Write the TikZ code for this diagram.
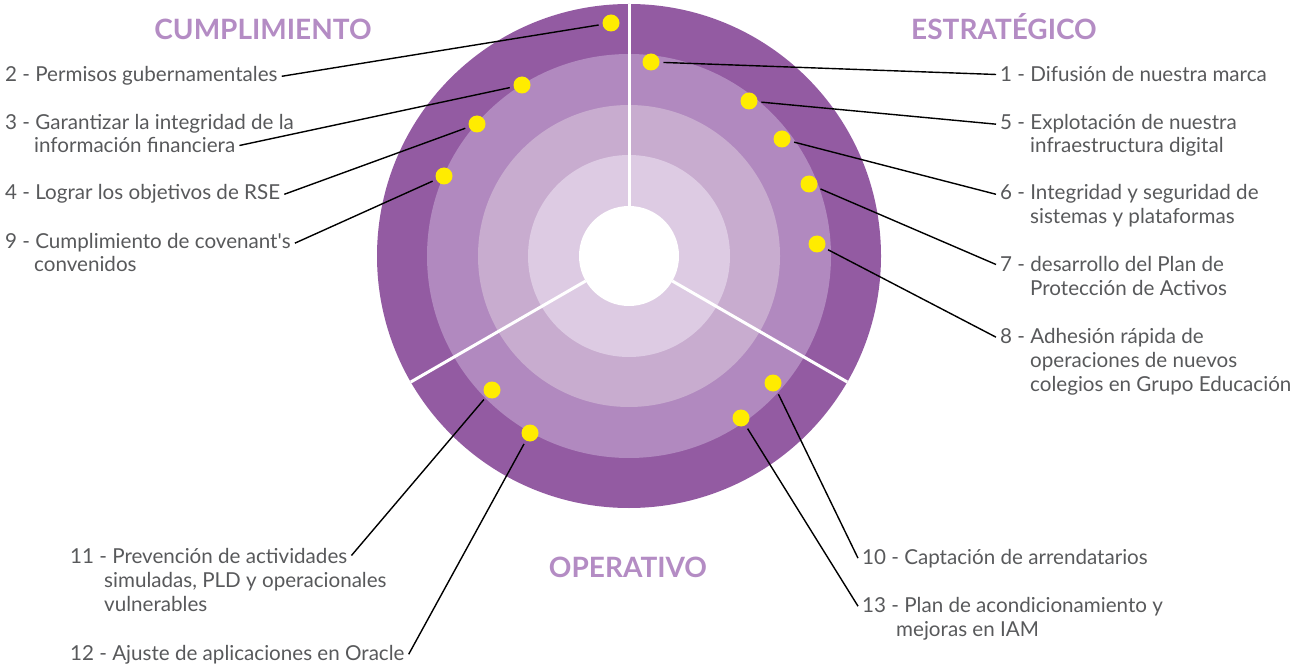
\documentclass[tikz,border=0pt]{standalone}
\usepackage{fontspec}
\setmainfont{Lato}
\definecolor{ringA}{HTML}{935BA2}
\definecolor{ringB}{HTML}{B189BF}
\definecolor{ringC}{HTML}{C8ACCF}
\definecolor{ringD}{HTML}{DDCBE3}
\definecolor{titlepurple}{HTML}{B48CC4}
\definecolor{dotyellow}{HTML}{FFEC00}
\definecolor{txtgray}{HTML}{58595B}

\begin{document}
\begin{tikzpicture}[x=1pt,y=-1pt,
  riskdot/.style={circle,fill=dotyellow,minimum size=17pt,inner sep=0pt,outer sep=4pt},
  lbl/.style={anchor=base west,text=txtgray,font=\fontsize{20.6}{23}\selectfont,inner sep=4pt},
  areatitle/.style={anchor=base,text=titlepurple,font=\fontsize{28}{30}\selectfont\bfseries},
  conn/.style={draw=black,line width=1.4pt}]
\useasboundingbox (0,0) rectangle (1293,668);

% rings
\coordinate (c) at (629,256);
\fill[ringA] (c) circle (252);
\fill[ringB] (c) circle (202);
\fill[ringC] (c) circle (151);
\fill[ringD] (c) circle (101);
\fill[white] (c) circle (50);
\foreach \a in {270,150,30}
  \draw[white,line width=3pt] (c) ++(\a:50) -- ++(\a:202);

% areas
\node[areatitle] (tcump) at (263,40) {CUMPLIMIENTO};
\node[areatitle] (testr) at (1004,40) {ESTRATÉGICO};
\node[areatitle] (toper) at (628,577) {OPERATIVO};

% risks
\node[riskdot] (d1) at (651,62) {};
\node[riskdot] (d2) at (611,23) {};
\node[riskdot] (d3) at (522,85) {};
\node[riskdot] (d4) at (477,124) {};
\node[riskdot] (d5) at (749,101) {};
\node[riskdot] (d6) at (782,139) {};
\node[riskdot] (d7) at (809,184) {};
\node[riskdot] (d8) at (817,244) {};
\node[riskdot] (d9) at (444,176) {};
\node[riskdot] (d10) at (773,383) {};
\node[riskdot] (d11) at (492,390) {};
\node[riskdot] (d12) at (530,433) {};
\node[riskdot] (d13) at (741,418) {};

% left labels
\node[lbl] (l2) at (1,82) {2 - Permisos gubernamentales};
\node[lbl] (l3) at (1,130) {3 - Garantizar la integridad de la};
\node[lbl] (l3b) at (30,153) {información financiera};
\node[lbl] (l4) at (1,200) {4 - Lograr los objetivos de RSE};
\node[lbl] (l9) at (1,249) {9 - Cumplimiento de covenant\textquotesingle s};
\node[lbl] (l9b) at (30,272) {convenidos};

% right labels
\node[lbl] (l1) at (996,82) {1 - Difusión de nuestra marca};
\node[lbl] (l5) at (996,130) {5 - Explotación de nuestra};
\node[lbl] (l5b) at (1026,153) {infraestructura digital};
\node[lbl] (l6) at (996,200) {6 - Integridad y seguridad de};
\node[lbl] (l6b) at (1026,224) {sistemas y plataformas};
\node[lbl] (l7) at (996,272) {7 - desarrollo del Plan de};
\node[lbl] (l7b) at (1026,296) {Protección de Activos};
\node[lbl] (l8) at (996,343) {8 - Adhesión rápida de};
\node[lbl] (l8b) at (1026,367) {operaciones de nuevos};
\node[lbl] (l8c) at (1026,391) {colegios en Grupo Educación};

% bottom labels
\node[lbl] (l11) at (66,563) {11 - Prevención de actividades};
\node[lbl] (l11b) at (100,587) {simuladas, PLD y operacionales};
\node[lbl] (l11c) at (100,611) {vulnerables};
\node[lbl] (l12) at (66,660) {12 - Ajuste de aplicaciones en Oracle};
\node[lbl] (l10) at (858,564) {10 - Captación de arrendatarios};
\node[lbl] (l13) at (858,612) {13 - Plan de acondicionamiento y};
\node[lbl] (l13b) at (892,636) {mejoras en IAM};

% connectors
\draw[conn] (d2) -- (l2.east);
\draw[conn] (d3) -- (l3b.east);
\draw[conn] (d4) -- (l4.east);
\draw[conn] (d9) -- (l9.east);
\draw[conn] (d1) -- (l1.west);
\draw[conn] (d5) -- (l5.west);
\draw[conn] (d6) -- (l6.west);
\draw[conn] (d7) -- (l7.west);
\draw[conn] (d8) -- (l8.west);
\draw[conn] (d11) -- (l11.east);
\draw[conn] (d12) -- (l12.east);
\draw[conn] (d10) -- (l10.west);
\draw[conn] (d13) -- (l13.west);
\end{tikzpicture}
\end{document}
